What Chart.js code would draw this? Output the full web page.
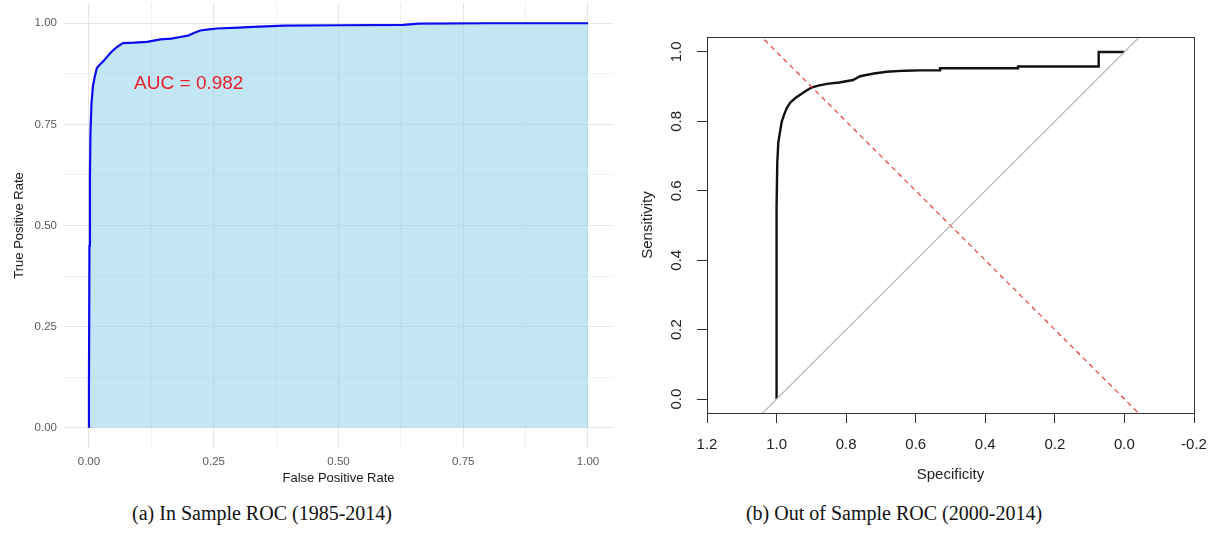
<!DOCTYPE html>
<html>
<head>
<meta charset="utf-8">
<script src="https://cdn.jsdelivr.net/npm/chart.js@4.4.1/dist/chart.umd.min.js"></script>
<style>
  body { margin: 0; background: #fff; width: 1212px; height: 539px; position: relative; overflow: hidden; }
  canvas { position: absolute; top: 0; }
  #rocIn { left: 0; }
  #rocOut { left: 620px; }
  .caption { position: absolute; font-family: "Liberation Serif", serif; font-size: 20px; color: #111;
             transform: translate(-50%, -50%); white-space: nowrap; top: 513px; }
</style>
</head>
<body>
<canvas id="rocIn" width="620" height="500"></canvas>
<canvas id="rocOut" width="592" height="500"></canvas>
<div class="caption" style="left:262px">(a) In Sample ROC (1985-2014)</div>
<div class="caption" style="left:894px">(b) Out of Sample ROC (2000-2014)</div>
<script>
// In sample ROC (left panel)
const inFpr = [0, 0, 0.001, 0.002, 0.003, 0.005, 0.008, 0.012, 0.016, 0.022, 0.028, 0.035, 0.042, 0.05,
  0.058, 0.068, 0.09, 0.116, 0.13, 0.143, 0.165, 0.183, 0.2, 0.209, 0.223, 0.24, 0.257, 0.3, 0.33,
  0.39, 0.5, 0.63, 0.66, 0.8, 1.0];
const inTpr = [0, 0.1, 0.45, 0.62, 0.73, 0.8, 0.845, 0.87, 0.89, 0.898, 0.905, 0.915, 0.925, 0.935,
  0.943, 0.951, 0.952, 0.954, 0.957, 0.96, 0.962, 0.966, 0.97, 0.975, 0.982, 0.985, 0.987, 0.989, 0.991,
  0.994, 0.995, 0.996, 0.999, 1.0, 1.0];
const inTicks = [0, 0.125, 0.25, 0.375, 0.5, 0.625, 0.75, 0.875, 1];
const inMajor = [0, 0.25, 0.5, 0.75, 1];
const aucText = 'AUC = 0.982';
const aucPos = [0.2, 0.85];

// Out of sample ROC (right panel)
const outSpec = [1.0, 1.0, 0.998, 0.995, 0.99, 0.985, 0.978, 0.97, 0.96, 0.945, 0.93, 0.915, 0.9, 0.88,
  0.855, 0.82, 0.78, 0.76, 0.72, 0.683, 0.63, 0.588, 0.53, 0.53, 0.306, 0.306, 0.074, 0.074, 0.0];
const outSens = [0.0, 0.55, 0.68, 0.74, 0.77, 0.8, 0.82, 0.84, 0.855, 0.868, 0.878, 0.888, 0.897, 0.903,
  0.908, 0.912, 0.919, 0.93, 0.938, 0.943, 0.946, 0.947, 0.947, 0.953, 0.953, 0.958, 0.958, 1.0, 1.0];
const refSpec = [1.2, -0.2];
const chanceSens = [-0.2, 1.2];
const cutSens = [1.2, -0.2];
const outXTicks = [1.2, 1.0, 0.8, 0.6, 0.4, 0.2, 0.0, -0.2];
const outYTicks = [0, 0.2, 0.4, 0.6, 0.8, 1.0];

const toPoints = (xs, ys) => xs.map((x, i) => ({ x: x, y: ys[i] }));

// no extra room for overhanging tick labels, the plot areas are placed by hand
const noOverhang = s => { s.paddingTop = 0; s.paddingBottom = 0; s.paddingLeft = 0; s.paddingRight = 0; };

// Text annotation on the left panel
const aucLabel = {
  id: 'aucLabel',
  afterDatasetsDraw(chart) {
    const c = chart.ctx;
    c.save();
    c.font = '19px "Liberation Sans"';
    c.fillStyle = '#e8202a';
    c.textAlign = 'center';
    c.textBaseline = 'middle';
    c.fillText(aucText, chart.scales.x.getPixelForValue(aucPos[0]), chart.scales.y.getPixelForValue(aucPos[1]));
    c.restore();
  }
};

// Box around the right panel
const boxFrame = {
  id: 'boxFrame',
  afterDraw(chart) {
    const a = chart.chartArea;
    const c = chart.ctx;
    c.save();
    c.strokeStyle = '#333';
    c.lineWidth = 1;
    c.strokeRect(Math.round(a.left) + 0.5, Math.round(a.top) + 0.5,
      Math.round(a.right - a.left), Math.round(a.bottom - a.top));
    c.restore();
  }
};

const gridWidth = ctx => (ctx.tick && inMajor.includes(ctx.tick.value)) ? 1.1 : 0.55;

new Chart(document.getElementById('rocIn'), {
  type: 'line',
  data: {
    datasets: [{
      data: toPoints(inFpr, inTpr),
      borderColor: '#0c0cf0',
      borderWidth: 2.2,
      backgroundColor: 'rgba(135, 206, 235, 0.5)',
      fill: 'origin',
      pointRadius: 0,
      tension: 0
    }]
  },
  options: {
    responsive: false,
    animation: false,
    layout: { padding: { top: 3, right: 7, left: 0, bottom: 0 } },
    plugins: { legend: { display: false }, tooltip: { enabled: false } },
    scales: {
      x: {
        type: 'linear', min: -0.05, max: 1.05,
        afterBuildTicks: s => { s.ticks = inTicks.map(v => ({ value: v })); },
        afterFit: s => { s.height = 52; noOverhang(s); },
        border: { display: false },
        grid: { color: '#e6e6e6', lineWidth: gridWidth, drawTicks: false },
        ticks: {
          padding: 7, maxRotation: 0, autoSkip: false, color: '#5a5a5a',
          font: { family: 'Liberation Sans', size: 11.5 },
          callback: v => inMajor.includes(v) ? v.toFixed(2) : ''
        },
        title: {
          display: true, text: 'False Positive Rate', color: '#1a1a1a',
          font: { family: 'Liberation Sans', size: 13 }, padding: { top: 0, bottom: 14 }
        }
      },
      y: {
        type: 'linear', min: -0.05, max: 1.05,
        afterBuildTicks: s => { s.ticks = inTicks.map(v => ({ value: v })); },
        afterFit: s => { s.width = 64; noOverhang(s); },
        border: { display: false },
        grid: { color: '#e6e6e6', lineWidth: gridWidth, drawTicks: false },
        ticks: {
          padding: 7, autoSkip: false, color: '#5a5a5a',
          font: { family: 'Liberation Sans', size: 11.5 },
          callback: v => inMajor.includes(v) ? v.toFixed(2) : ''
        },
        title: {
          display: true, text: 'True Positive Rate', color: '#1a1a1a',
          font: { family: 'Liberation Sans', size: 13 }, padding: { top: 12, bottom: 0 }
        }
      }
    }
  },
  plugins: [aucLabel]
});

new Chart(document.getElementById('rocOut'), {
  type: 'line',
  data: {
    datasets: [
      {
        data: toPoints(refSpec, chanceSens),
        borderColor: '#b4b4b4', borderWidth: 1.2, pointRadius: 0, fill: false
      },
      {
        data: toPoints(refSpec, cutSens),
        borderColor: '#f03c3c', borderWidth: 1.2, borderDash: [5, 4], pointRadius: 0, fill: false
      },
      {
        data: toPoints(outSpec, outSens),
        borderColor: '#111', borderWidth: 2.4, pointRadius: 0, fill: false, tension: 0
      }
    ]
  },
  options: {
    responsive: false,
    animation: false,
    layout: { padding: { top: 37, right: 18, left: 0, bottom: 0 } },
    plugins: { legend: { display: false }, tooltip: { enabled: false } },
    scales: {
      x: {
        type: 'linear', min: -0.2, max: 1.2, reverse: true,
        afterBuildTicks: s => { s.ticks = outXTicks.map(v => ({ value: v })); },
        afterFit: s => { s.height = 87; noOverhang(s); },
        border: { display: false },
        grid: { drawOnChartArea: false, drawTicks: true, tickLength: 10, color: '#333', lineWidth: 1 },
        ticks: {
          padding: 13, maxRotation: 0, autoSkip: false, color: '#222',
          font: { family: 'Liberation Sans', size: 15 },
          callback: v => v.toFixed(1)
        },
        title: {
          display: true, text: 'Specificity', color: '#222',
          font: { family: 'Liberation Sans', size: 15 }, padding: { top: 0, bottom: 16 }
        }
      },
      y: {
        type: 'linear', min: -0.04, max: 1.043,
        afterBuildTicks: s => { s.ticks = outYTicks.map(v => ({ value: v })); },
        afterFit: s => { s.width = 87; noOverhang(s); },
        border: { display: false },
        grid: { drawOnChartArea: false, drawTicks: true, tickLength: 10, color: '#333', lineWidth: 1 },
        ticks: {
          padding: 10, minRotation: 90, maxRotation: 90, autoSkip: false, crossAlign: 'center', color: '#222',
          font: { family: 'Liberation Sans', size: 15 },
          callback: v => v.toFixed(1)
        },
        title: {
          display: true, text: 'Sensitivity', color: '#222',
          font: { family: 'Liberation Sans', size: 15 }, padding: { top: 19, bottom: 0 }
        }
      }
    }
  },
  plugins: [boxFrame]
});
</script>
</body>
</html>
